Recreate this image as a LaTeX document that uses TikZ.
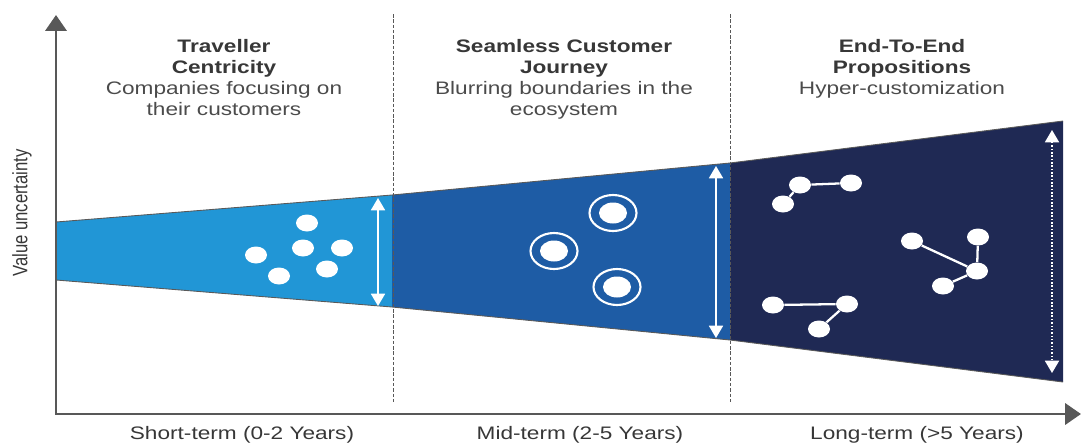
\documentclass[tikz,border=0pt]{standalone}
\usepackage{fontspec}
\setmainfont{Liberation Sans}
\usetikzlibrary{arrows.meta,positioning,shapes.geometric}
\definecolor{shortblue}{RGB}{33,150,214}
\definecolor{midblue}{RGB}{30,92,165}
\definecolor{longnavy}{RGB}{31,41,84}
\definecolor{axisgray}{RGB}{88,88,88}
\definecolor{textgray}{RGB}{55,55,55}

\begin{document}
\begin{tikzpicture}[
    x=0.02cm, y=-0.02cm,
    every node/.style={align=center},
    axis/.style={draw=axisgray, line width=1.6pt},
    divider/.style={draw=axisgray, line width=0.5pt, dash pattern=on 2pt off 1pt},
    edge/.style={draw=black!65, line width=0.5pt},
    spread/.style={draw=white, line width=0.9pt, {Triangle[length=7pt,width=8pt]}-{Triangle[length=7pt,width=8pt]}},
    dot/.style={ellipse, fill=white, inner sep=0pt, minimum width=0.44cm, minimum height=0.34cm},
    bigdot/.style={ellipse, fill=white, inner sep=0pt, minimum width=0.56cm, minimum height=0.42cm},
    ring/.style={ellipse, draw=white, line width=1.2pt, inner sep=0pt, minimum width=0.94cm, minimum height=0.72cm},
    link/.style={draw=white, line width=1.3pt},
    heading/.style={font=\fontsize{10.3}{12}\selectfont\bfseries, text=textgray, xscale=1.25, inner sep=0pt},
    subheading/.style={font=\fontsize{10.3}{12}\selectfont, text=textgray!90, xscale=1.25, inner sep=0pt},
    period/.style={font=\fontsize{10.3}{12}\selectfont, text=textgray, xscale=1.25, inner sep=0pt},
    axislabel/.style={font=\fontsize{9.5}{11}\selectfont, text=textgray, xscale=1.25, rotate=90, inner sep=0pt},
    ]
\useasboundingbox (0,0) rectangle (1081,447);
% band corners
\coordinate (a0) at (56,222);
\coordinate (a1) at (392,195);
\coordinate (a2) at (730,163);
\coordinate (a3) at (1063,121);
\coordinate (b0) at (56,280);
\coordinate (b1) at (392,307);
\coordinate (b2) at (730,340);
\coordinate (b3) at (1063,382);
\fill[shortblue] (a0) -- (a1) -- (b1) -- (b0) -- cycle;
\fill[midblue] (a1) -- (a2) -- (b2) -- (b1) -- cycle;
\fill[longnavy] (a2) -- (a3) -- (b3) -- (b2) -- cycle;
\draw[edge] (a0) -- (a1) -- (a2) -- (a3);
\draw[edge] (b0) -- (b1) -- (b2) -- (b3);
% dividers
\coordinate (top1) at (393,14);
\coordinate (bot1) at (393,403);
\coordinate (top2) at (730,14);
\coordinate (bot2) at (730,403);
\draw[divider] (top1) -- (bot1);
\draw[divider] (top2) -- (bot2);
% axes
\coordinate (origin) at (56,414);
\coordinate (ytip) at (56,15);
\coordinate (xtip) at (1081,414);
\draw[axis, {Triangle[length=9pt,width=12pt]}-{Triangle[length=9pt,width=12pt]}] (ytip) -- (origin) -- (xtip);
% spread arrows
\coordinate (u1) at (378,198);
\coordinate (d1) at (378,306);
\coordinate (u2) at (716,166);
\coordinate (d2) at (716,338);
\coordinate (u3) at (1052,130);
\coordinate (d3) at (1052,373);
\draw[spread] (u1) -- (d1);
\draw[spread] (u2) -- (d2);
\draw[spread, densely dotted] (u3) -- (d3);
% short term dots
\foreach \name/\pos in {p1/{(256,255)}, p2/{(307,223)}, p3/{(303,248)}, p4/{(342,248)}, p5/{(279,276)}, p6/{(327,269)}}
    \node[dot] (\name) at \pos {};
% mid term rings
\foreach \name/\pos in {r1/{(613,213)}, r2/{(554,251)}, r3/{(617,287)}}{
    \node[ring] (\name) at \pos {};
    \node[bigdot] (\name c) at \pos {};
}
% long term networks
\node[dot] (n1) at (800,185) {};
\node[dot] (n2) at (851,183) {};
\node[dot] (n3) at (783,204) {};
\node[dot] (m1) at (912,241) {};
\node[dot] (m2) at (978,237) {};
\node[dot] (m3) at (977,271) {};
\node[dot] (m4) at (943,286) {};
\node[dot] (k1) at (773,305) {};
\node[dot] (k2) at (847,304) {};
\node[dot] (k3) at (819,329) {};
\draw[link] (n1) -- (n2);
\draw[link] (n1) -- (n3);
\draw[link] (m1) -- (m3);
\draw[link] (m2) -- (m3);
\draw[link] (m3) -- (m4);
\draw[link] (k1) -- (k2);
\draw[link] (k2) -- (k3);
% headings
\node[heading, anchor=north] (t1) at (224,39) {Traveller\\Centricity};
\node[subheading, below=2pt of t1] (s1) {Companies focusing on\\their customers};
\node[heading, anchor=north] (t2) at (564,39) {Seamless Customer\\Journey};
\node[subheading, below=2pt of t2] (s2) {Blurring boundaries in the\\ecosystem};
\node[heading, anchor=north] (t3) at (902,39) {End-To-End\\Propositions};
\node[subheading, below=2pt of t3] (s3) {Hyper-customization};
% axis labels
\node[period] (q1) at (242,435) {Short-term (0-2 Years)};
\node[period] (q2) at (580,435) {Mid-term (2-5 Years)};
\node[period] (q3) at (917,435) {Long-term (>5 Years)};
\node[axislabel] (v) at (22,213) {Value uncertainty};
\end{tikzpicture}
\end{document}
